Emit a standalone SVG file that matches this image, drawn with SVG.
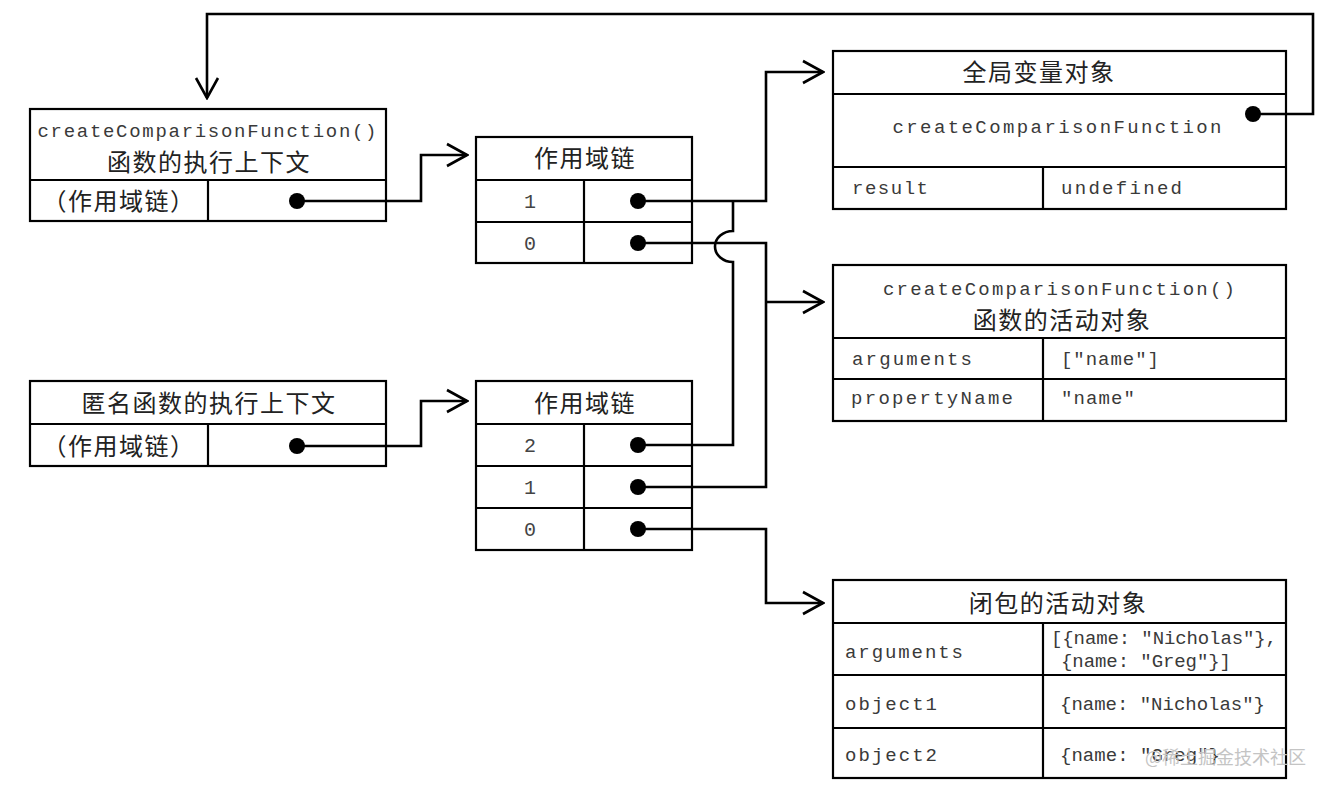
<svg xmlns="http://www.w3.org/2000/svg" width="1328" height="790" viewBox="0 0 1328 790">
<defs>
<style>
.box{fill:#fff;stroke:#000;stroke-width:2.2}
.ln{stroke:#000;stroke-width:2.2;fill:none}
.con{stroke:#000;stroke-width:2.6;fill:none}
.dot{fill:#000}
.mono{font-family:"Liberation Mono","Courier New",monospace;font-size:19px;fill:#3a3a3a}
.num{font-family:"Liberation Mono","Courier New",monospace;font-size:20px;fill:#444;text-anchor:middle}
.cjk{font-family:"Noto Sans CJK SC","Noto Sans",sans-serif;font-size:24px;fill:#222;letter-spacing:1.5px}
.mid{text-anchor:middle}
.wm{font-family:"Noto Sans CJK SC","Noto Sans",sans-serif;font-size:18px;fill:#c4c4c4}
</style>
<marker id="arr" markerUnits="userSpaceOnUse" viewBox="0 0 24 26" refX="22" refY="13" markerWidth="24" markerHeight="26" orient="auto">
<path d="M2,2 L22,13 L2,24" fill="none" stroke="#000" stroke-width="2.6"/>
</marker>
</defs>
<rect width="1328" height="790" fill="#fff"/>

<g id="ctx1">
<rect class="box" x="30" y="109" width="356" height="112"/>
<line class="ln" x1="30" y1="180" x2="386" y2="180"/>
<line class="ln" x1="208" y1="180" x2="208" y2="221"/>
<text class="mono mid" x="207" y="137" textLength="339" lengthAdjust="spacing">createComparisonFunction()</text>
<text class="cjk mid" x="209" y="171">函数的执行上下文</text>
<text class="cjk mid" x="119" y="210">（作用域链）</text>
</g>

<g id="chain1">
<rect class="box" x="476" y="137" width="216" height="126"/>
<line class="ln" x1="476" y1="180" x2="692" y2="180"/>
<line class="ln" x1="476" y1="222" x2="692" y2="222"/>
<line class="ln" x1="584" y1="180" x2="584" y2="263"/>
<text class="cjk mid" x="585" y="167">作用域链</text>
<text class="num" x="530" y="208">1</text>
<text class="num" x="530" y="250">0</text>
</g>

<g id="ctx2">
<rect class="box" x="30" y="381" width="356" height="85"/>
<line class="ln" x1="30" y1="424" x2="386" y2="424"/>
<line class="ln" x1="208" y1="424" x2="208" y2="466"/>
<text class="cjk mid" x="209" y="412">匿名函数的执行上下文</text>
<text class="cjk mid" x="119" y="455">（作用域链）</text>
</g>

<g id="chain2">
<rect class="box" x="476" y="381" width="216" height="169"/>
<line class="ln" x1="476" y1="424" x2="692" y2="424"/>
<line class="ln" x1="476" y1="466" x2="692" y2="466"/>
<line class="ln" x1="476" y1="508" x2="692" y2="508"/>
<line class="ln" x1="584" y1="424" x2="584" y2="550"/>
<text class="cjk mid" x="585" y="412">作用域链</text>
<text class="num" x="530" y="452">2</text>
<text class="num" x="530" y="494">1</text>
<text class="num" x="530" y="536">0</text>
</g>

<g id="global">
<rect class="box" x="833" y="51" width="453" height="158"/>
<line class="ln" x1="833" y1="94" x2="1286" y2="94"/>
<line class="ln" x1="833" y1="167" x2="1286" y2="167"/>
<line class="ln" x1="1043" y1="167" x2="1043" y2="209"/>
<text class="cjk mid" x="1039" y="81">全局变量对象</text>
<text class="mono mid" x="1057" y="133" textLength="329" lengthAdjust="spacing">createComparisonFunction</text>
<text class="mono" x="852" y="194" textLength="76" lengthAdjust="spacing">result</text>
<text class="mono" x="1061" y="194" textLength="121" lengthAdjust="spacing">undefined</text>
</g>

<g id="activation">
<rect class="box" x="833" y="265" width="453" height="156"/>
<line class="ln" x1="833" y1="338" x2="1286" y2="338"/>
<line class="ln" x1="833" y1="379" x2="1286" y2="379"/>
<line class="ln" x1="1043" y1="338" x2="1043" y2="421"/>
<text class="mono mid" x="1059" y="295" textLength="352" lengthAdjust="spacing">createComparisonFunction()</text>
<text class="cjk mid" x="1062" y="329">函数的活动对象</text>
<text class="mono" x="852" y="365" textLength="120" lengthAdjust="spacing">arguments</text>
<text class="mono" x="1061" y="365" textLength="98" lengthAdjust="spacing">["name"]</text>
<text class="mono" x="851" y="404" textLength="162" lengthAdjust="spacing">propertyName</text>
<text class="mono" x="1061" y="404" textLength="74" lengthAdjust="spacing">"name"</text>
</g>

<g id="closure">
<rect class="box" x="833" y="580" width="453" height="198"/>
<line class="ln" x1="833" y1="623" x2="1286" y2="623"/>
<line class="ln" x1="833" y1="675" x2="1286" y2="675"/>
<line class="ln" x1="833" y1="728" x2="1286" y2="728"/>
<line class="ln" x1="1043" y1="623" x2="1043" y2="778"/>
<text class="cjk mid" x="1058" y="612">闭包的活动对象</text>
<text class="mono" x="845" y="658" textLength="118" lengthAdjust="spacing">arguments</text>
<text class="mono" x="1051" y="644" font-size="18" textLength="226" lengthAdjust="spacing">[{name: "Nicholas"},</text>
<text class="mono" x="1061" y="667" font-size="18" textLength="170" lengthAdjust="spacing">{name: "Greg"}]</text>
<text class="mono" x="845" y="710" textLength="92" lengthAdjust="spacing">object1</text>
<text class="mono" x="1060" y="710" font-size="18" textLength="205" lengthAdjust="spacing">{name: "Nicholas"}</text>
<text class="mono" x="845" y="761" textLength="92" lengthAdjust="spacing">object2</text>
<text class="mono" x="1060" y="761" font-size="18" textLength="160" lengthAdjust="spacing">{name: "Greg"}</text>
</g>

<g id="connectors">
<path class="con" d="M297,201 H421 V155 H467" marker-end="url(#arr)"/>
<path class="con" d="M297,446 H421 V401 H467" marker-end="url(#arr)"/>
<path class="con" d="M638,201 H766 V72 H823" marker-end="url(#arr)"/>
<path class="con" d="M638,243 H766 V487 H638"/>
<path class="con" d="M766,302 H823" marker-end="url(#arr)"/>
<path class="con" d="M638,445 H733 V262 A18,15.5 0 0 1 733,231 V201"/>
<path class="con" d="M638,529 H766 V603 H823" marker-end="url(#arr)"/>
<path class="con" d="M1253,114 H1313 V14 H207 V98" marker-end="url(#arr)"/>
<circle class="dot" cx="297" cy="201" r="8"/>
<circle class="dot" cx="297" cy="446" r="8"/>
<circle class="dot" cx="638" cy="201" r="8"/>
<circle class="dot" cx="638" cy="243" r="8"/>
<circle class="dot" cx="638" cy="445" r="8"/>
<circle class="dot" cx="638" cy="487" r="8"/>
<circle class="dot" cx="638" cy="529" r="8"/>
<circle class="dot" cx="1253" cy="114" r="8"/>
</g>

<text class="wm" x="1145" y="764">@稀土掘金技术社区</text>
</svg>
